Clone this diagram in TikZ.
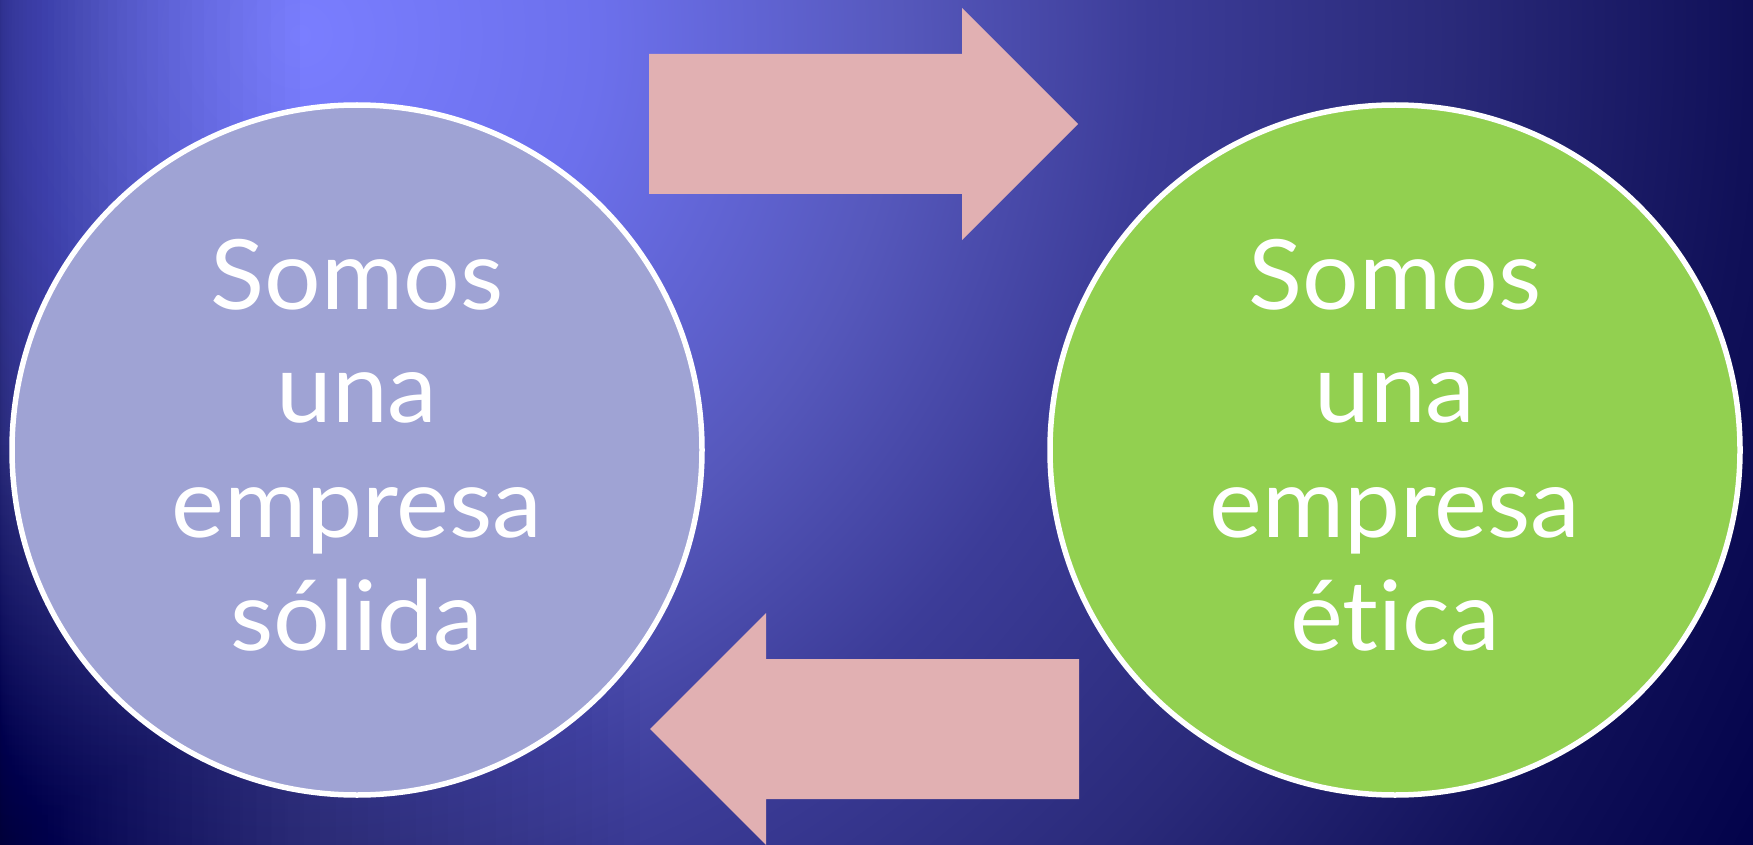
\documentclass[tikz,border=0pt]{standalone}
\usepackage{fontspec}
\setmainfont{Lato}[Ligatures={NoCommon}, FakeStretch=1.03]
\definecolor{c0}{HTML}{7A7EFF}
\definecolor{c1}{HTML}{6C70EC}
\definecolor{c2}{HTML}{5658BC}
\definecolor{c3}{HTML}{3C3C98}
\definecolor{c4}{HTML}{2A2A7A}
\definecolor{c5}{HTML}{101058}
\definecolor{c6}{HTML}{000048}
\definecolor{navyd}{HTML}{00003A}
\definecolor{lilac}{HTML}{9FA3D4}
\definecolor{leaf}{HTML}{92D050}
\definecolor{arrowpink}{HTML}{E1B0B2}
\pgfdeclareradialshading{bgshade}{\pgfpoint{0bp}{0bp}}{color(0bp)=(c0); color(4.41bp)=(c1); color(8.82bp)=(c2); color(12.5bp)=(c3); color(16.9bp)=(c4); color(21.3bp)=(c5); color(25bp)=(c6); color(50bp)=(c6)}
\tikzset{
  circ/.style={circle, draw=white, line width=5.5pt, minimum size=690pt, inner sep=0pt},
  txt/.style={text=white, font=\fontsize{97}{97}\selectfont, anchor=base, inner sep=0pt},
  blockarrow/.style={fill=arrowpink},
  vign/.style={fill=navyd, fill opacity=0.015}
}
\begin{document}
\begin{tikzpicture}[x=1pt, y=-1pt]
\useasboundingbox (0,0) rectangle (1753,845);
\begin{scope}
  \clip (0,0) rectangle (1753,845);
  \shade[shading=bgshade] (300,35) circle (1700pt);
  \foreach \i in {1,...,40} {
    \fill[vign] (0,0) rectangle ({300*(\i/40)*(\i/40)},845);
  }
  \foreach \i in {1,...,40} {
    \fill[vign] (0,{845-10*\i}) rectangle ({16*\i},845);
  }
\end{scope}
% block arrows
\fill[blockarrow] (649,54) -- (962,54) -- (962,8) -- (1078,124) -- (962,240) -- (962,194) -- (649,194) -- cycle;
\fill[blockarrow] (1079,659) -- (766,659) -- (766,613) -- (650,729) -- (766,845) -- (766,799) -- (1079,799) -- cycle;
% circles
\node[circ, fill=lilac] (L) at (357,450) {};
\node[circ, fill=leaf] (R) at (1395,450) {};
% texts
\node[txt] (L1) at (357,309) {Somos};
\node[txt] (L2) at (357,422) {una};
\node[txt] (L3) at (357,537) {empresa};
\node[txt] (L4) at (357,650) {sólida};
\node[txt] (R1) at (1395,309) {Somos};
\node[txt] (R2) at (1395,422) {una};
\node[txt] (R3) at (1395,537) {empresa};
\node[txt] (R4) at (1395,650) {ética};
\end{tikzpicture}
\end{document}
